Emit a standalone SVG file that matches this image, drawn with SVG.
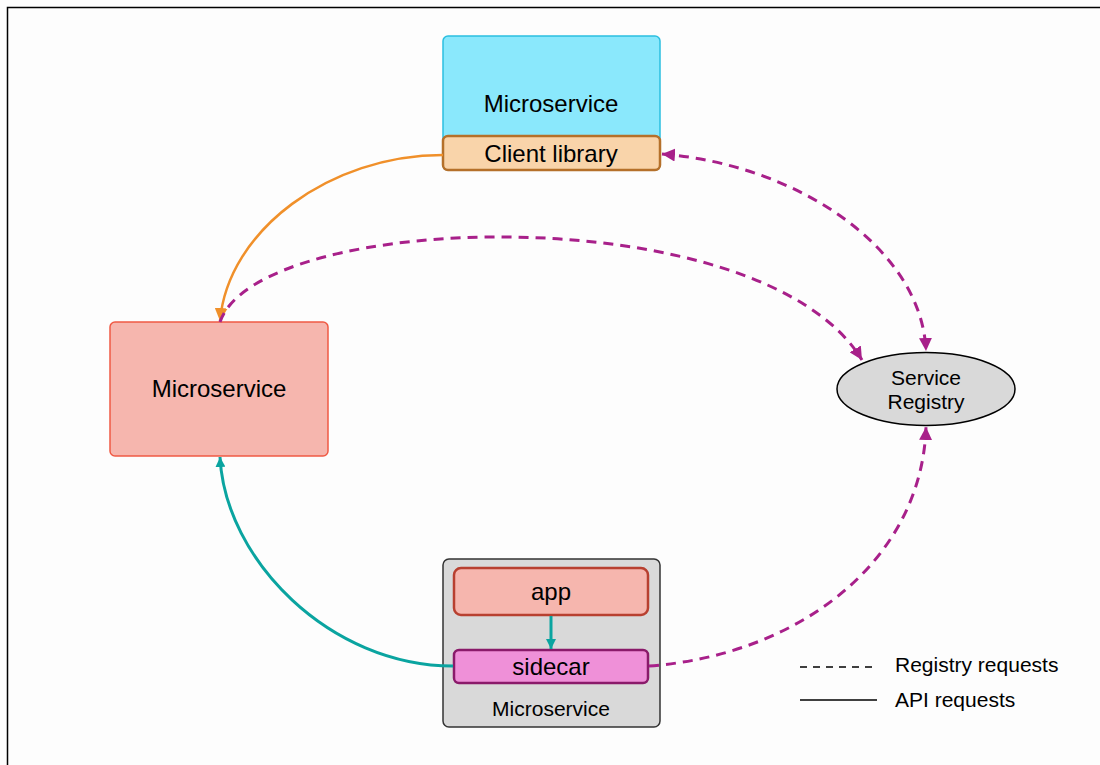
<svg xmlns="http://www.w3.org/2000/svg" width="1100" height="765" viewBox="0 0 1100 765">
  <defs>
    <style>
      text { font-family: "Liberation Sans", Arial, sans-serif; fill: #000; text-anchor: middle; }
      .big { font-size: 24px; }
      .mid { font-size: 21px; }
      .legend { font-size: 21px; text-anchor: start; }
      .reg { fill: none; stroke: #a8208a; stroke-width: 3; stroke-dasharray: 10 7; }
      .api-orange { fill: none; stroke: #f0902a; stroke-width: 2.5; }
      .api-teal { fill: none; stroke: #0aa4a0; stroke-width: 3; }
    </style>
    <marker id="mPurple" viewBox="0 0 12 12" refX="12" refY="6" markerWidth="13" markerHeight="13" markerUnits="userSpaceOnUse" orient="auto-start-reverse">
      <path d="M0,0 L12,6 L0,12 Z" fill="#a8208a"/>
    </marker>
    <marker id="mOrange" viewBox="0 0 12 12" refX="12" refY="6" markerWidth="13" markerHeight="13" markerUnits="userSpaceOnUse" orient="auto">
      <path d="M0,0 L12,6 L0,12 Z" fill="#f0902a"/>
    </marker>
    <marker id="mTeal" viewBox="0 0 12 12" refX="12" refY="6" markerWidth="10" markerHeight="10" markerUnits="userSpaceOnUse" orient="auto">
      <path d="M0,0 L12,6 L0,12 Z" fill="#0aa4a0"/>
    </marker>
  </defs>

  <rect x="0" y="0" width="1100" height="765" fill="#fdfdfd"/>
  <path d="M7.5,765 L7.5,7.5 L1100,7.5" fill="none" stroke="#000" stroke-width="1.5"/>

  <g id="microservice-top">
    <rect x="443" y="36" width="217" height="134" rx="5" fill="#8ae8fc" stroke="#2bbfe0" stroke-width="1.5"/>
    <text class="big" x="551" y="112">Microservice</text>
  </g>
  <g id="client-library">
    <rect x="443" y="136" width="217" height="34" rx="5" fill="#f9d4aa" stroke="#b5702a" stroke-width="2.5"/>
    <text class="big" x="551" y="162">Client library</text>
  </g>

  <g id="microservice-left">
    <rect x="110" y="322" width="218" height="134" rx="5" fill="#f6b6ae" stroke="#f05a44" stroke-width="1.5"/>
    <text class="big" x="219" y="397">Microservice</text>
  </g>

  <g id="service-registry">
    <ellipse cx="926" cy="389" rx="89" ry="36.5" fill="#d9d9d9" stroke="#000" stroke-width="1.5"/>
    <text class="mid" x="926" y="385">Service</text>
    <text class="mid" x="926" y="409">Registry</text>
  </g>

  <g id="microservice-bottom">
    <rect x="443" y="559" width="217" height="168" rx="6" fill="#d9d9d9" stroke="#333" stroke-width="1.5"/>
    <text class="mid" x="551" y="716">Microservice</text>
  </g>
  <g id="app">
    <rect x="454" y="568" width="194" height="47" rx="7" fill="#f6b6ae" stroke="#b84030" stroke-width="2.5"/>
    <text class="big" x="551" y="600">app</text>
  </g>
  <g id="sidecar">
    <rect x="454" y="650" width="194" height="33" rx="5" fill="#ef90d8" stroke="#8a1a6a" stroke-width="2.5"/>
    <text class="big" x="551" y="675">sidecar</text>
  </g>

  <g id="connectors">
    <path class="api-orange" d="M443,155 C 330,155 228,230 220,321" marker-end="url(#mOrange)"/>
    <path class="reg" d="M220,322 C 258,210 762,195 862,360" marker-end="url(#mPurple)"/>
    <path class="reg" d="M662,154 C 800,165 922,250 926,351" marker-start="url(#mPurple)" marker-end="url(#mPurple)"/>
    <path class="reg" d="M649,666 C 800,655 922,560 926,427" marker-end="url(#mPurple)"/>
    <path class="api-teal" d="M453,666 C 330,666 225,560 220,457" marker-end="url(#mTeal)"/>
    <path class="api-teal" d="M551,616 L551,649" stroke-width="2" marker-end="url(#mTeal)"/>
  </g>

  <g id="legend">
    <line x1="800" y1="667" x2="877" y2="667" stroke="#000" stroke-width="1.5" stroke-dasharray="7 6"/>
    <text class="legend" x="895" y="672">Registry requests</text>
    <line x1="800" y1="700" x2="877" y2="700" stroke="#000" stroke-width="1.5"/>
    <text class="legend" x="895" y="707">API requests</text>
  </g>
</svg>
